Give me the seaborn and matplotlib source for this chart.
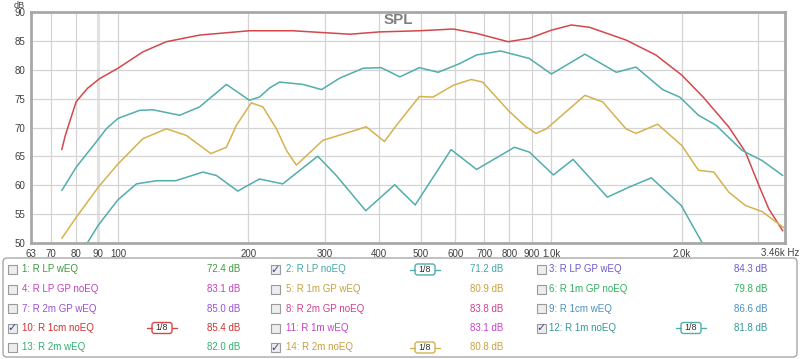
import matplotlib
matplotlib.use("Agg")
import matplotlib.pyplot as plt
from matplotlib.patches import Rectangle, FancyBboxPatch
import seaborn as sns
import pandas as pd

# curves (Hz, dB)
red_f = [74.2, 75.5, 77.2, 80.1, 85, 90.7, 100, 114.2, 129.3, 154.3, 201, 253, 343, 401, 496, 594, 672, 795, 890,
         1000, 1112, 1225, 1486, 1742, 2000, 2240, 2568, 2805, 3011, 3175, 3420]
red_db = [66.2, 68.5, 70.8, 74.5, 76.8, 78.5, 80.3, 83.15, 84.9, 86.05, 86.8, 86.8, 86.2, 86.6, 86.8, 87.1, 86.35, 84.9, 85.5,
          86.9, 87.8, 87.4, 85.2, 82.6, 79.1, 75.3, 70.1, 65.75, 60.0, 55.9, 52.1]

lp_f = [74.2, 80.1, 90.1, 94, 100, 112.2, 120.4, 138.8, 154.3, 177.9, 201, 212, 224, 236, 267, 295, 325, 368, 405, 447,
        496, 548, 614, 672, 763, 889, 1000, 1195, 1412, 1568, 1806, 1978, 2185, 2400, 2755, 3063, 3420]
lp_db = [59.1, 63.15, 68.0, 69.8, 71.6, 73.0, 73.1, 72.15, 73.6, 77.5, 74.75, 75.3, 76.9, 77.9, 77.5, 76.6, 78.6, 80.3, 80.4, 78.8,
         80.4, 79.6, 81.1, 82.6, 83.3, 82.0, 79.3, 82.75, 79.6, 80.5, 76.6, 75.3, 72.15, 70.4, 66.05, 64.3, 61.7]

m2_f = [74.2, 80.1, 90.1, 100, 114.2, 129.3, 143.8, 163.8, 177.9, 187.6, 203, 216, 232, 245, 258, 297, 348, 374, 412, 439,
        496, 533, 594, 653, 694, 795, 875, 922, 974, 1195, 1314, 1486, 1568, 1758, 2000, 2185, 2370, 2568, 2805, 3063, 3460]
m2_db = [50.8, 54.45, 59.7, 63.7, 68.1, 69.8, 68.65, 65.5, 66.6, 70.4, 74.3, 73.6, 69.8, 66.0, 63.5, 67.8, 69.4, 70.15, 67.6, 70.4,
         75.4, 75.3, 77.35, 78.35, 77.9, 73.0, 70.1, 69.0, 69.8, 75.6, 74.45, 69.8, 69.0, 70.6, 66.9, 62.6, 62.3, 58.8, 56.5, 55.45, 52.5]

m1_f = [84.8, 90.1, 100, 110.3, 122.8, 136, 157, 168.7, 189, 212, 240, 289, 319, 373, 435, 485, 587, 672, 822, 890,
        1011, 1122, 1347, 1513, 1701, 1994, 2230]
m1_db = [49.9, 53.1, 57.5, 60.25, 60.8, 60.8, 62.3, 61.7, 59.0, 61.1, 60.25, 65.05, 61.7, 55.6, 60.1, 56.6, 66.2, 62.75, 66.6, 65.75,
         61.8, 64.5, 57.95, 59.7, 61.3, 56.5, 50.0]

x_ticks = [63, 70, 80, 90, 100, 200, 300, 400, 500, 600, 700, 800, 900, 1000, 2000, 3460]
x_labels = ["63", "70", "80", "90", "100", "200", "300", "400", "500", "600", "700", "800", "900", "1.0k", "2.0k", "3.46k Hz"]
y_ticks = [50, 55, 60, 65, 70, 75, 80, 85, 90]

names = ["1: R LP wEQ", "2: R LP noEQ", "3: R LP GP wEQ", "4: R LP GP noEQ", "5: R 1m GP wEQ", "6: R 1m GP noEQ",
         "7: R 2m GP wEQ", "8: R 2m GP noEQ", "9: R 1cm wEQ", "10: R 1cm noEQ", "11: R 1m wEQ", "12: R 1m noEQ",
         "13: R 2m wEQ", "14: R 2m noEQ"]
values = ["72.4 dB", "71.2 dB", "84.3 dB", "83.1 dB", "80.9 dB", "79.8 dB", "85.0 dB", "83.8 dB", "86.6 dB",
          "85.4 dB", "83.1 dB", "81.8 dB", "82.0 dB", "80.8 dB"]
colors = ["#3c9a3c", "#40a8a8", "#6a5acd", "#c040c0", "#c8a040", "#30b060", "#9a50d0", "#d04090", "#4a90c0",
          "#d03030", "#c840c8", "#309898", "#30b070", "#c8a040"]
checked = [2, 10, 12, 14]

RED, TEAL, GOLD = "#d4484c", "#52adad", "#d6b24e"

df = pd.concat([
    pd.DataFrame({"freq": red_f, "db": red_db, "curve": "10: R 1cm noEQ"}),
    pd.DataFrame({"freq": lp_f, "db": lp_db, "curve": "2: R LP noEQ"}),
    pd.DataFrame({"freq": m2_f, "db": m2_db, "curve": "14: R 2m noEQ"}),
    pd.DataFrame({"freq": m1_f, "db": m1_db, "curve": "12: R 1m noEQ"}),
])
pal = {"10: R 1cm noEQ": RED, "2: R LP noEQ": TEAL, "14: R 2m noEQ": GOLD, "12: R 1m noEQ": TEAL}

sns.set_style("white")
plt.rcParams["font.family"] = ["Liberation Sans", "DejaVu Sans"]

fig = plt.figure(figsize=(8, 3.59), dpi=100)
ax = fig.add_axes([31 / 800, 1 - 243 / 359, (785 - 31) / 800, (243 - 12.3) / 359])
ax.set_xscale("log")
ax.set_xlim(63, 3460)
ax.set_ylim(50, 90)

for x in [70, 80, 100, 200, 300, 400, 500, 600, 700, 800, 900, 1000, 2000, 3000]:
    ax.axvline(x, color="#d4d4d4", lw=0.9, zorder=0)
ax.axvline(90, color="#e2e2e2", lw=2.2, zorder=0)
for y in y_ticks:
    ax.axhline(y, color="#d4d4d4", lw=0.9, zorder=0)

sns.lineplot(data=df, x="freq", y="db", hue="curve", palette=pal, estimator=None, sort=True,
             legend=False, lw=1.1, ax=ax)

ax.set_xticks(x_ticks)
ax.set_xticklabels(x_labels[:-1] + [""])
ax.minorticks_off()
ax.set_yticks(y_ticks)
ax.tick_params(length=0, labelsize=7, colors="#404040", pad=4)
ax.set_xlabel("")
ax.set_ylabel("")
for s in ax.spines.values():
    s.set_color("#a8a8a8")
    s.set_linewidth(2)
ax.text(0.487, 0.995, "SPL", transform=ax.transAxes, ha="center", va="top",
        fontsize=11, fontweight="bold", color="#808080")
fig.text(14 / 800, 1 - 5 / 359, "dB", fontsize=6.5, color="#404040", ha="left", va="center")
fig.text(780 / 800, 1 - 252.5 / 359, x_labels[-1], fontsize=7, color="#404040", ha="center", va="center")

# legend panel in pixel coordinates
lg = fig.add_axes([0, 0, 1, 1])
lg.set_xlim(0, 800)
lg.set_ylim(359, 0)
lg.axis("off")
lg.patch.set_alpha(0)
lg.add_patch(FancyBboxPatch((3, 258), 794, 99, boxstyle="round,pad=0,rounding_size=4",
                            fc="white", ec="#a8a8a8", lw=1))

rows = [269.5, 289, 308.5, 328, 347.5]
cols = [(12, 22, 162, 240), (275, 286, 425, 503), (541, 549, 691, 767)]
badge = {10: RED, 2: TEAL, 14: GOLD, 12: TEAL}

for i, (name, val, col) in enumerate(zip(names, values, colors)):
    r, c = divmod(i, 3)
    y = rows[r]
    cb, tx, bx, vx = cols[c]
    lg.add_patch(Rectangle((cb - 4.5, y - 4.5), 9, 9, fc="#ededed", ec="#9a9a9a", lw=0.8))
    num = i + 1
    if num in checked:
        lg.text(cb, y, "\u2713", fontsize=8, color="#3a4a90", ha="center", va="center", family="DejaVu Sans")
    lg.text(tx, y, name, fontsize=7, color=col, ha="left", va="center")
    lg.text(vx, y, val, fontsize=7, color=col, ha="right", va="center")
    if num in badge:
        bc = badge[num]
        lg.plot([bx - 15, bx - 10], [y, y], color=bc, lw=1)
        lg.plot([bx + 10, bx + 15], [y, y], color=bc, lw=1)
        lg.add_patch(FancyBboxPatch((bx - 10, y - 5.5), 20, 11, boxstyle="round,pad=0,rounding_size=2.5",
                                    fc="white", ec=bc, lw=1))
        lg.text(bx, y, "1/8", fontsize=6.5, color="#303030", ha="center", va="center")

fig.savefig("out.png", dpi=100)
